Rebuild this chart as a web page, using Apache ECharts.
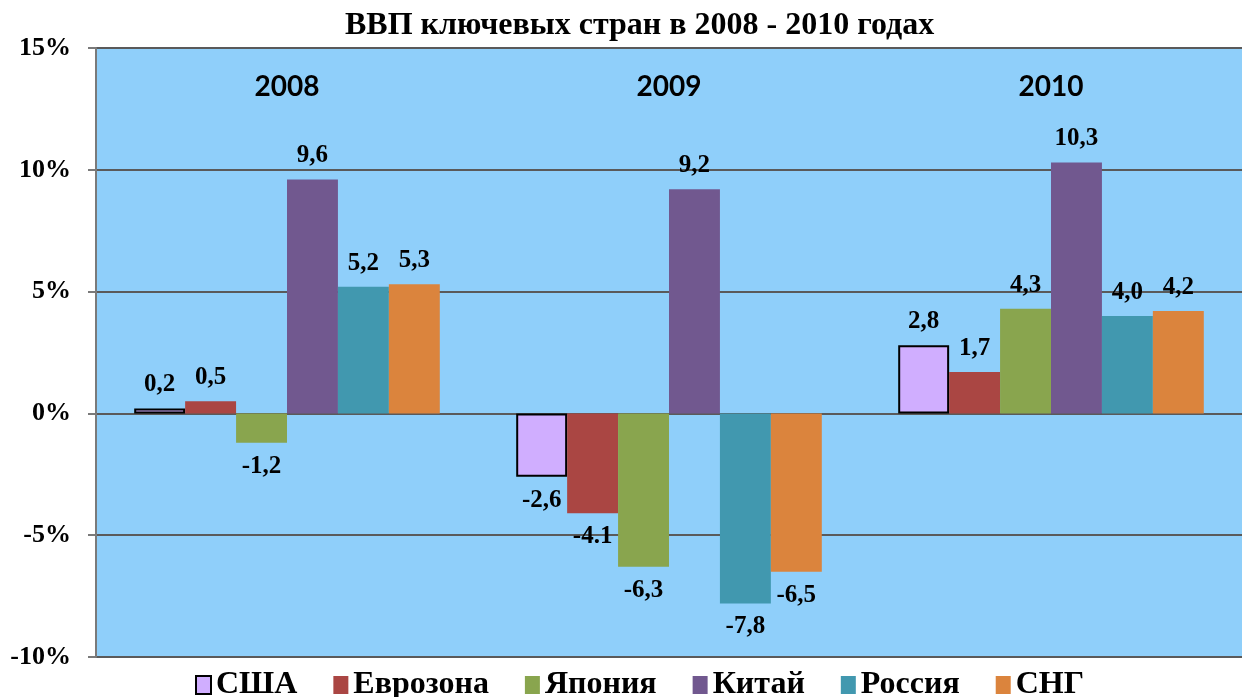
<!DOCTYPE html>
<html>
<head>
<meta charset="utf-8">
<script src="https://cdn.jsdelivr.net/npm/echarts@6/dist/echarts.min.js"></script>
<style>
  html, body { margin: 0; padding: 0; background: #fff; }
  #chart { width: 1242px; height: 697px; }
</style>
</head>
<body>
<div id="chart"></div>
<script>
// годы
const years = ['2008', '2009', '2010'];
// рост ВВП, %
const usa = [0.2, -2.6, 2.8];
const euro = [0.5, -4.1, 1.7];
const japan = [-1.2, -6.3, 4.3];
const china = [9.6, 9.2, 10.3];
const russia = [5.2, -7.8, 4.0];
const cis = [5.3, -6.5, 4.2];

const serif = '"Liberation Serif", "Times New Roman", serif';

function mkSeries(name, data, color, border) {
  return {
    name: name,
    type: 'bar',
    // подписи отрицательных значений — снизу
    data: data.map(function (v) {
      return v < 0 ? { value: v, label: { position: 'bottom' } } : v;
    }),
    barGap: '0%',
    barCategoryGap: '20%',
    itemStyle: {
      color: color,
      borderColor: border ? '#000' : color,
      borderWidth: border ? 2 : 0
    },
    label: {
      show: true,
      position: 'top',
      distance: 11,
      fontFamily: serif,
      fontWeight: 'bold',
      fontSize: 25,
      color: '#000',
      formatter: function (p) {
        // в исходнике -4.1 подписан с точкой
        if (name === 'Еврозона' && p.dataIndex === 1) return '-4.1';
        return Number(p.value).toFixed(1).replace('.', ',');
      }
    }
  };
}

const series = [
  mkSeries('США', usa, '#D0AEFF', true),
  mkSeries('Еврозона', euro, '#AA4643'),
  mkSeries('Япония', japan, '#89A54E'),
  mkSeries('Китай', china, '#71588F'),
  mkSeries('Россия', russia, '#4198AF'),
  mkSeries('СНГ', cis, '#DB843D')
];

let chart = echarts.init(document.getElementById('chart'));
chart.setOption({
  animation: false,
  title: {
    text: 'ВВП ключевых стран в 2008 - 2010 годах',
    left: 340,
    top: 5,
    textStyle: { fontFamily: serif, fontWeight: 'bold', fontSize: 32, color: '#000' }
  },
  legend: {
    top: 664,
    left: 190,
    itemWidth: 15,
    itemHeight: 18,
    itemGap: 36,
    icon: 'rect',
    textStyle: { fontFamily: serif, fontWeight: 'bold', fontSize: 32, color: '#000' },
    data: series.map(function (s) { return s.name; })
  },
  grid: {
    left: 96,
    top: 48,
    width: 1152,
    height: 609,
    show: true,
    backgroundColor: '#8FCFFA',
    borderWidth: 0
  },
  xAxis: {
    type: 'category',
    data: years,
    position: 'top',
    axisLine: { show: false },
    axisTick: { show: false },
    axisLabel: {
      inside: true,
      margin: 25,
      fontFamily: 'Lato, "Open Sans", sans-serif',
      fontWeight: 'bold',
      fontSize: 28,
      color: '#000'
    }
  },
  yAxis: {
    type: 'value',
    min: -10,
    max: 15,
    interval: 5,
    axisLine: { show: true, lineStyle: { color: '#7a7a7a', width: 2 } },
    axisTick: { show: true, length: 8, lineStyle: { color: '#7a7a7a', width: 2 } },
    splitLine: { lineStyle: { color: '#5a5a5a', width: 2 } },
    axisLabel: {
      margin: 25,
      formatter: '{value}%',
      fontFamily: serif,
      fontWeight: 'bold',
      fontSize: 26,
      color: '#000'
    }
  },
  series: series
});
</script>
</body>
</html>
